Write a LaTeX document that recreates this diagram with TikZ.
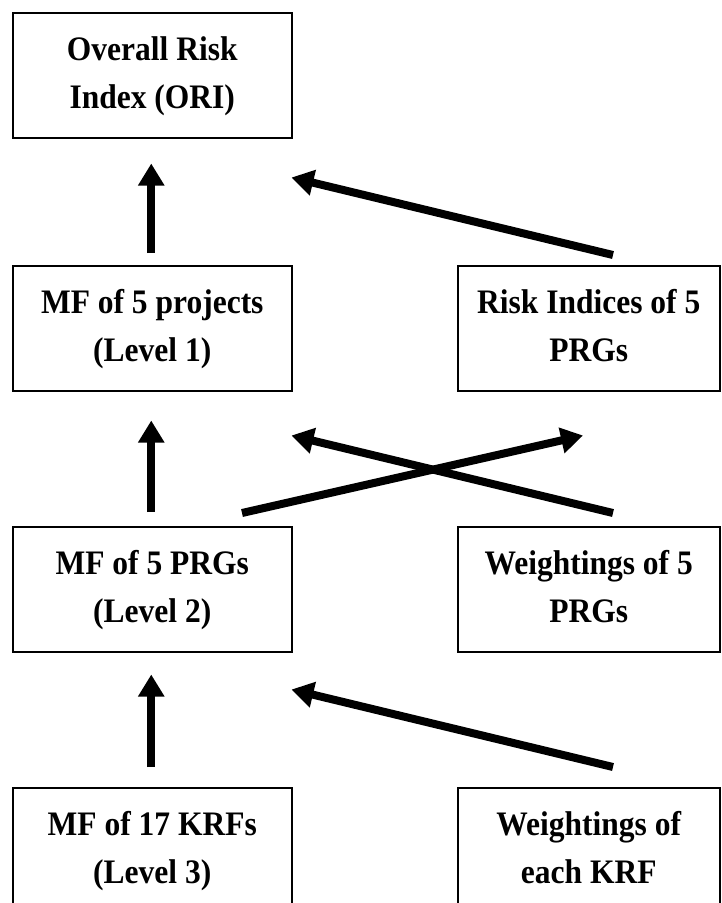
\documentclass[tikz,border=0pt]{standalone}
\usepackage{fontspec}
\setmainfont{Liberation Serif}
\usetikzlibrary{arrows.meta,calc}
% two centred lines of label text, set slightly taller than the font's natural shape
\newcommand{\twoline}[2]{\scalebox{1}[1.09]{\begin{tabular}{@{}c@{}}#1\\#2\end{tabular}}}
\begin{document}
\begin{tikzpicture}[x=1pt,y=-1pt,
  box/.style={draw, line width=1.5pt, anchor=north west, inner sep=0pt,
    minimum height=125pt, align=center,
    font=\fontsize{31.5}{44}\selectfont\bfseries},
  leftbox/.style={box, minimum width=279pt},
  rightbox/.style={box, minimum width=262pt},
  flow/.style={line width=8pt, -{Triangle[length=22pt,width=25pt]}}]
\clip (0,0) rectangle (721,903);
\fill[white] (0,0) rectangle (721,903);

% boxes, top row to bottom row
\node[leftbox]  (b1) at (12,12)  {\twoline{Overall Risk}{Index (ORI)}};
\node[leftbox]  (b2) at (12,265) {\twoline{MF of 5 projects}{(Level 1)}};
\node[rightbox] (b3) at (457,265) {\twoline{Risk Indices of 5}{PRGs}};
\node[leftbox]  (b4) at (12,526) {\twoline{MF of 5 PRGs}{(Level 2)}};
\node[rightbox] (b5) at (457,526) {\twoline{Weightings of 5}{PRGs}};
\node[leftbox]  (b6) at (12,787) {\twoline{MF of 17 KRFs}{(Level 3)}};
\node[rightbox] (b7) at (457,787) {\twoline{Weightings of}{each KRF}};

% upward flows
\draw[flow] ($(b2.north)+(-1,-12)$) -- ($(b1.south)+(-1,25)$);
\draw[flow] ($(b4.north)+(-1,-14)$) -- ($(b2.south)+(-1,29)$);
\draw[flow] ($(b6.north)+(-1,-20)$) -- ($(b4.south)+(-1,22)$);

% slanted flows
\draw[flow] ($(b3.north west)+(156,-10)$) -- ($(b1.south east)+(-1,39)$);
\draw[flow] ($(b4.north west)+(230,-13)$) -- ($(b3.south west)+(126,44)$);
\draw[flow] ($(b5.north west)+(156,-13)$) -- ($(b2.south east)+(-1,44)$);
\draw[flow] ($(b7.north west)+(156,-20)$) -- ($(b4.south east)+(-1,37)$);
\end{tikzpicture}
\end{document}
